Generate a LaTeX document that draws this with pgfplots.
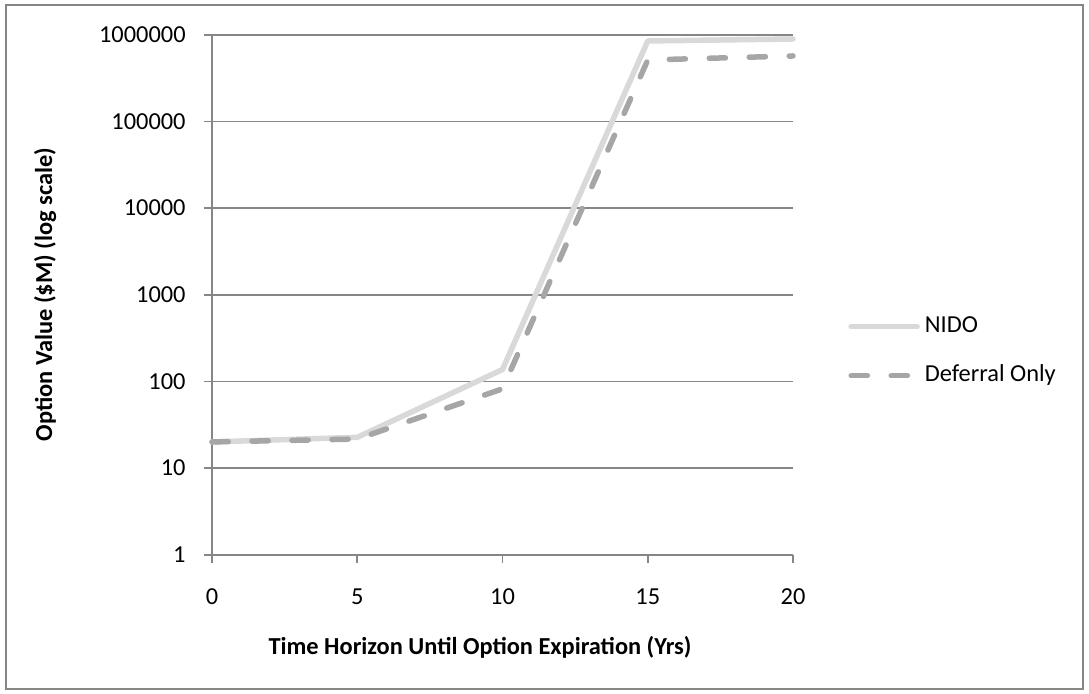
\documentclass[border=0pt]{standalone}
\usepackage{pgfplots}
\pgfplotsset{compat=1.18}
\usepackage{fontspec}
\setmainfont{Carlito}

\definecolor{nidogray}{HTML}{D9D9D9}
\definecolor{defgray}{HTML}{A6A6A6}
\definecolor{axisgray}{HTML}{868686}

\begin{document}
\begin{tikzpicture}[x=1pt,y=1pt]
  % page and chart-area frame
  \useasboundingbox (0,0) rectangle (544.5,347);
  \draw[axisgray, line width=1pt] (3,2.5) rectangle (541.5,344.5);

  \begin{axis}[
    at={(106pt,69.65pt)}, anchor=origin,
    scale only axis, width=290.5pt, height=260pt,
    ymode=log, xmin=0, xmax=20, ymin=1, ymax=1000000,
    axis x line*=bottom, axis y line*=left,
    axis line style={axisgray, line width=0.85pt, -},
    ymajorgrids, yminorticks=false,
    grid style={axisgray, line width=0.85pt},
    major tick style={axisgray, line width=0.85pt},
    tick align=outside, major tick length=4pt,
    xtick={0,5,10,15,20}, xticklabels={0,5,10,15,20},
    ytick={1,10,100,1000,10000,100000,1000000},
    yticklabels={1,10,100,1000,10000,100000,1000000},
    tick label style={font=\fontsize{12.2}{14}\selectfont, text=black},
    xticklabel style={anchor=north, inner sep=0pt, yshift=-13pt},
    yticklabel style={anchor=east, inner sep=0pt, xshift=-9pt},
    clip=false,
    xlabel={Time Horizon Until Option Expiration (Yrs)},
    ylabel={Option Value (\$M) (log scale)},
    every axis x label/.style={at={(axis description cs:0.4613,-0.1775)}, anchor=center,
      font=\bfseries\fontsize{12.2}{14}\selectfont},
    every axis y label/.style={at={(axis description cs:-0.2874,0.5)}, anchor=center, rotate=90,
      font=\bfseries\fontsize{12.2}{14}\selectfont},
    legend style={at={(axis description cs:1.0947,0.3913)}, anchor=west,
      draw=none, fill=none, inner sep=0pt, row sep=14pt,
      font=\fontsize{12.2}{14}\selectfont,
      nodes={inner sep=0pt, text height=8pt, text depth=2.5pt}},
    legend cell align=left,
    legend image code/.code={\draw[#1] (0pt,0pt) -- (33pt,0pt);},
    /tikz/every odd column/.append style={column sep=2.5pt},
  ]
    \addplot[nidogray, line width=2.75pt, line cap=round, line join=round]
      coordinates {(0,20) (5,22.6) (10,137) (15,846000) (20,892000)};
    \addlegendentry{NIDO}
    \addplot[defgray, line width=2.75pt, line cap=round, line join=round,
      dash pattern=on 8.1pt off 11.9pt]
      coordinates {(0,20) (5,21.6) (10,82) (15,511000) (20,568000)};
    \addlegendentry{Deferral Only}
  \end{axis}
\end{tikzpicture}
\end{document}
